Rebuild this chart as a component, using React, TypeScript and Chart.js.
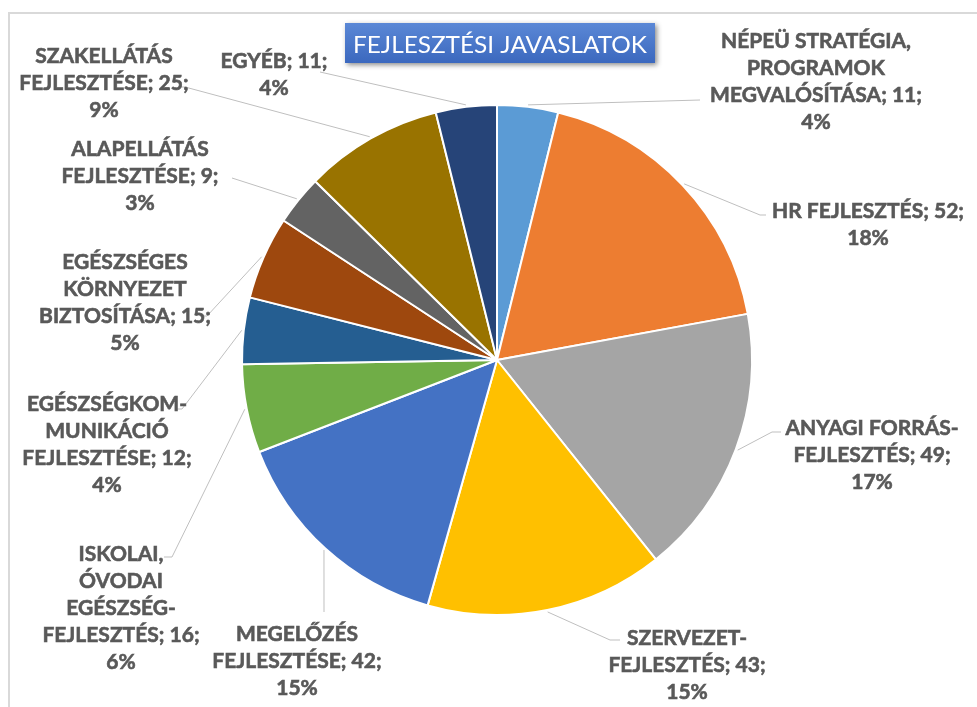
import React, { useEffect, useRef } from 'react';
import { Chart, registerables } from 'chart.js';

Chart.register(...registerables);

// ---- data ----
const categories: string[] = [
  'NÉPEÜ STRATÉGIA,\nPROGRAMOK\nMEGVALÓSÍTÁSA',
  'HR FEJLESZTÉS',
  'ANYAGI FORRÁS-\nFEJLESZTÉS',
  'SZERVEZET-\nFEJLESZTÉS',
  'MEGELŐZÉS\nFEJLESZTÉSE',
  'ISKOLAI,\nÓVODAI\nEGÉSZSÉG-\nFEJLESZTÉS',
  'EGÉSZSÉGKOM-\nMUNIKÁCIÓ\nFEJLESZTÉSE',
  'EGÉSZSÉGES\nKÖRNYEZET\nBIZTOSÍTÁSA',
  'ALAPELLÁTÁS\nFEJLESZTÉSE',
  'SZAKELLÁTÁS\nFEJLESZTÉSE',
  'EGYÉB',
];
const values: number[] = [11, 52, 49, 43, 42, 16, 12, 15, 9, 25, 11];
const colors: string[] = [
  '#5B9BD5', '#ED7D31', '#A5A5A5', '#FFC000', '#4472C4', '#70AD47',
  '#255E91', '#9E480E', '#636363', '#997300', '#264478',
];
const chartTitle = 'FEJLESZTÉSI JAVASLATOK';

// ---- label layout (annotation positions, not data) ----
type Pt = [number, number];
const labelLayout: { cx: number; y: number; path: Pt[] }[] = [
  { cx: 816, y: 40, path: [[700, 100]] },
  { cx: 868, y: 210, path: [[760, 215], [766, 215]] },
  { cx: 872, y: 427, path: [[772, 432], [781, 432]] },
  { cx: 687, y: 637, path: [[610, 640], [620, 640]] },
  { cx: 297, y: 633, path: [[324, 612]] },
  { cx: 121, y: 553, path: [[172, 557], [164, 557]] },
  { cx: 107, y: 403, path: [[182, 409], [177, 409]] },
  { cx: 125, y: 261, path: [[207, 316], [200, 316]] },
  { cx: 140, y: 148, path: [[232, 178]] },
  { cx: 104, y: 55, path: [[185, 87], [180, 87]] },
  { cx: 274, y: 60, path: [[320, 72]] },
];
const LINE_H = 27;
const LABEL_FONT = 'bold 21px Lato';
const LABEL_REF = 'HR FEJLESZTÉS; 52;';
const LABEL_REF_W = 200;
const TITLE_FONT = '23px Lato';
const TITLE_W = 294;

const decorPlugin = {
  id: 'decor',
  beforeDraw(chart: any) {
    const ctx: CanvasRenderingContext2D = chart.ctx;
    ctx.save();
    ctx.strokeStyle = '#D9D9D9';
    ctx.lineWidth = 2;
    ctx.beginPath();
    ctx.moveTo(9, 707);
    ctx.lineTo(9, 13);
    ctx.lineTo(977, 13);
    ctx.stroke();
    ctx.restore();
  },
  afterDraw(chart: any) {
    const ctx: CanvasRenderingContext2D = chart.ctx;
    // title box
    ctx.save();
    const bx = 345, by = 23, bw = 310, bh = 40;
    ctx.shadowColor = 'rgba(0,0,0,0.45)';
    ctx.shadowBlur = 5;
    ctx.shadowOffsetX = 2;
    ctx.shadowOffsetY = 2;
    const g = ctx.createLinearGradient(0, by, 0, by + bh);
    g.addColorStop(0, '#5B88D6');
    g.addColorStop(1, '#3B68BE');
    ctx.fillStyle = g;
    ctx.fillRect(bx, by, bw, bh);
    ctx.restore();
    ctx.save();
    ctx.font = TITLE_FONT;
    const tw = ctx.measureText(chartTitle).width;
    const s = TITLE_W / tw;
    ctx.translate(bx + bw / 2, 0);
    ctx.scale(s, 1);
    ctx.fillStyle = '#FFFFFF';
    ctx.textAlign = 'center';
    ctx.textBaseline = 'alphabetic';
    ctx.fillText(chartTitle, 0, 53);
    ctx.restore();
  },
  afterDatasetsDraw(chart: any) {
    const ctx: CanvasRenderingContext2D = chart.ctx;
    const meta = chart.getDatasetMeta(0);
    const total = values.reduce((a, b) => a + b, 0);
    ctx.save();
    ctx.font = LABEL_FONT;
    const sx = Math.min(1, LABEL_REF_W / ctx.measureText(LABEL_REF).width);
    meta.data.forEach((arc: any, i: number) => {
      const p = arc.getProps(['x', 'y', 'startAngle', 'endAngle', 'outerRadius'], true);
      const mid = (p.startAngle + p.endAngle) / 2;
      const x0 = p.x + Math.cos(mid) * (p.outerRadius + 2);
      const y0 = p.y + Math.sin(mid) * (p.outerRadius + 2);
      const lay = labelLayout[i];
      ctx.strokeStyle = '#BFBFBF';
      ctx.lineWidth = 1;
      ctx.beginPath();
      ctx.moveTo(x0, y0);
      lay.path.forEach(([px, py]) => ctx.lineTo(px, py));
      ctx.stroke();

      const lines = categories[i].split('\n');
      lines[lines.length - 1] += '; ' + values[i] + ';';
      lines.push(Math.round((values[i] / total) * 100) + '%');
      ctx.fillStyle = '#595959';
      ctx.strokeStyle = '#595959';
      ctx.lineWidth = 0.6;
      ctx.textAlign = 'center';
      ctx.textBaseline = 'alphabetic';
      lines.forEach((ln, k) => {
        ctx.save();
        ctx.translate(lay.cx, lay.y + k * LINE_H + 7.5);
        ctx.scale(sx, 1);
        ctx.fillText(ln, 0, 0);
        ctx.strokeText(ln, 0, 0);
        ctx.restore();
      });
    });
    ctx.restore();
  },
};

export default function App() {
  const ref = useRef<HTMLCanvasElement | null>(null);
  useEffect(() => {
    if (!ref.current) return;
    const chart = new Chart(ref.current, {
      type: 'pie',
      data: {
        labels: categories.map((c) => c.replace(/\n/g, ' ')),
        datasets: [
          {
            data: values,
            backgroundColor: colors,
            borderColor: '#FFFFFF',
            borderWidth: 2,
          },
        ],
      },
      options: {
        responsive: false,
        animation: false,
        devicePixelRatio: 1,
        layout: { padding: { left: 17, right: 0, top: 104, bottom: 91 } },
        plugins: {
          legend: { display: false },
          tooltip: { enabled: false },
          title: { display: false },
        },
      },
      plugins: [decorPlugin],
    });
    return () => chart.destroy();
  }, []);
  return (
    <div style={{ position: 'fixed', left: 0, top: 0, width: 977, height: 707, background: '#fff' }}>
      <canvas ref={ref} width={977} height={707} style={{ width: 977, height: 707, display: 'block' }} />
    </div>
  );
}
